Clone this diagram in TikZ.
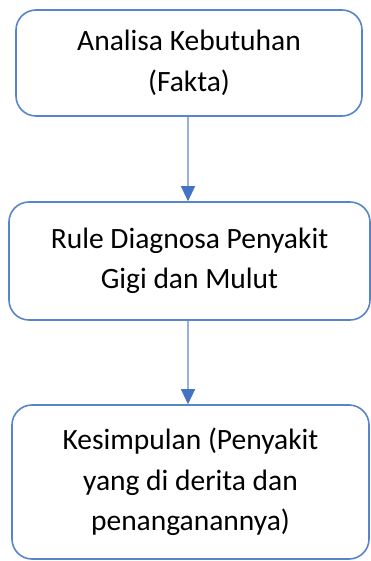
\documentclass[tikz,border=0pt]{standalone}
\usepackage{fontspec}
\setmainfont{Carlito}
\usetikzlibrary{arrows.meta}

\definecolor{boxblue}{RGB}{88,132,202}
\definecolor{lineblue}{RGB}{150,176,226}
\definecolor{tipblue}{RGB}{68,114,196}

\begin{document}
\begin{tikzpicture}[x=1pt,y=-1pt]
\tikzstyle{every node}+=[inner sep=0pt]
\tikzstyle{stepbox}=[draw=boxblue, line width=1.6pt, rounded corners=20pt, align=center,
  font=\fontsize{29.5}{40.5}\selectfont]
\tikzstyle{flow}=[draw=lineblue, line width=1.1pt, -{Triangle[width=14pt,length=15pt,color=tipblue]}]
\useasboundingbox (0,0) rectangle (371,561);
\node [stepbox, minimum width=346pt, minimum height=106pt] (analisa) at (189,63)
  {Analisa Kebutuhan\\(Fakta)};
\node [stepbox, minimum width=361pt, minimum height=118pt] (rule) at (189.5,261)
  {Rule Diagnosa Penyakit\\Gigi dan Mulut};
\node [stepbox, minimum width=357pt, minimum height=154pt] (kesimpulan) at (190.5,482)
  {Kesimpulan (Penyakit\\yang di derita dan\\penanganannya)};
%\draw [flow] (analisa) -- (rule);
\draw [flow] (analisa.south -| 188,0) -- (rule.north -| 188,0);
\draw [flow] (rule.south -| 188,0) -- (kesimpulan.north -| 188,0);
\end{tikzpicture}
\end{document}
